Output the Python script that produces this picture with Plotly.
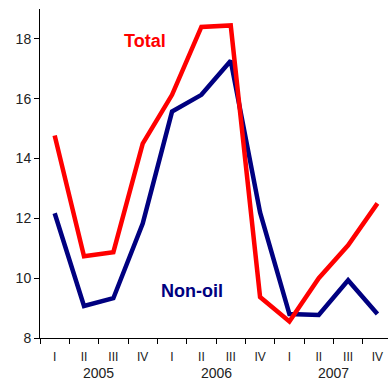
import plotly.graph_objects as go

quarters = ["I", "II", "III", "IV"] * 3
years = ["2005", "2006", "2007"]
total = [14.77, 10.73, 10.87, 14.5, 16.13, 18.4, 18.45, 9.37, 8.55, 10.0, 11.1, 12.5]
non_oil = [12.17, 9.07, 9.33, 11.83, 15.57, 16.13, 17.27, 12.2, 8.8, 8.77, 9.93, 8.8]

x = list(range(len(quarters)))

fig = go.Figure()
fig.add_trace(go.Scatter(x=x, y=non_oil, mode="lines", line=dict(color="#000080", width=4.5), name="Non-oil"))
fig.add_trace(go.Scatter(x=x, y=total, mode="lines", line=dict(color="#FF0000", width=4.5), name="Total"))

fig.update_layout(
    width=388, height=381,
    margin=dict(l=40, r=0, t=9, b=43),
    plot_bgcolor="white", paper_bgcolor="white",
    showlegend=False,
    font=dict(family="Liberation Sans, Arial", size=13, color="#222"),
    xaxis=dict(
        range=[-0.5, 11.36], automargin=False,
        tickmode="array", tickvals=x, ticktext=quarters,
        ticks="", showgrid=False, zeroline=False,
        showline=True, linecolor="black", linewidth=1,
        tickfont=dict(size=12), ticklabelstandoff=8,
        minor=dict(tickmode="array", tickvals=[i - 0.5 for i in range(13)],
                   ticks="outside", ticklen=5, tickcolor="black", showgrid=False),
    ),
    yaxis=dict(
        range=[8, 19], tickvals=[8, 10, 12, 14, 16, 18], automargin=False,
        ticks="outside", ticklen=5, tickcolor="black",
        showgrid=False, zeroline=False,
        showline=True, linecolor="black", linewidth=1,
        tickfont=dict(size=14),
    ),
)

for i, yr in enumerate(years):
    fig.add_annotation(x=4 * i + 1.5, y=0, xref="x", yref="paper", yanchor="top",
                       yshift=-25, text=yr, showarrow=False, font=dict(size=14, color="#222"))

fig.add_annotation(x=3.08, y=17.93, xref="x", yref="y", text="<b>Total</b>", showarrow=False,
                   font=dict(size=18, color="#FF0000"))
fig.add_annotation(x=4.665, y=9.57, xref="x", yref="y", text="<b>Non-oil</b>", showarrow=False,
                   font=dict(size=18, color="#000080"))

fig.write_html("out.html", post_script="document.body.style.margin='0';",
               config={"displayModeBar": False})
